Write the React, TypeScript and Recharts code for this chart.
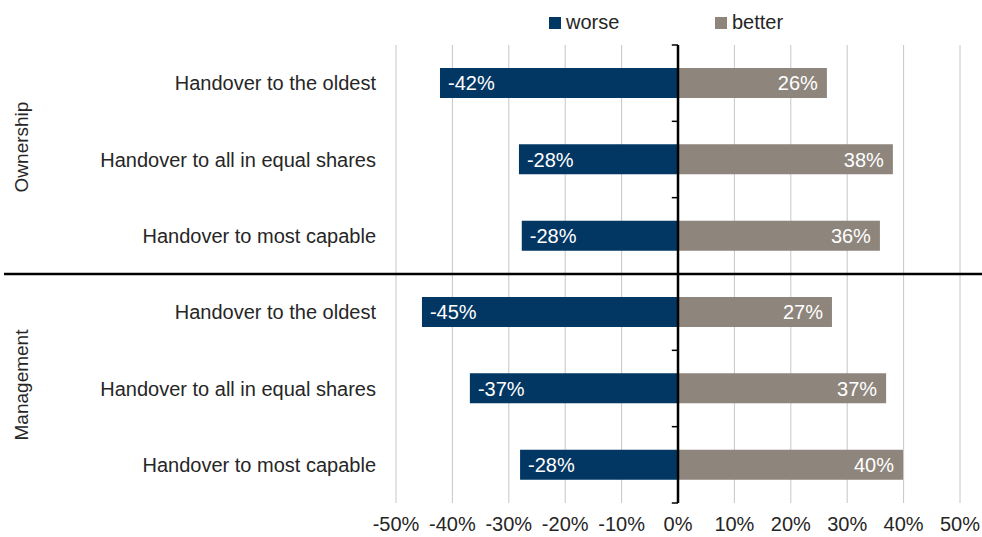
import { Bar, BarChart, CartesianGrid, LabelList, ReferenceLine, XAxis, YAxis } from "recharts";

const GROUPS = ["Ownership", "Management"];
const ITEMS = ["Handover to the oldest", "Handover to all in equal shares", "Handover to most capable"];
const SERIES = ["worse", "better"];
const WORSE = [-42.2, -28.2, -27.7, -45.4, -36.9, -28.0];
const BETTER = [26.4, 38.1, 35.8, 27.3, 36.9, 39.9];
const X_TICKS = [-50, -40, -30, -20, -10, 0, 10, 20, 30, 40, 50];

const COLORS = { worse: "#023763", better: "#8e857c" };
const FONT = "'Liberation Sans', Arial, sans-serif";
const TEXT = "#262626";

const data = WORSE.map((w, i) => ({
  key: `${GROUPS[Math.floor(i / ITEMS.length)]}-${i % ITEMS.length}`,
  label: ITEMS[i % ITEMS.length],
  worse: w,
  better: BETTER[i],
}));

const labelOf = (k: string) => data.find((d) => d.key === k)?.label ?? k;

function barLabel(side: "left" | "right") {
  return (p: any) => {
    const vb = p.viewBox ?? p;
    const x = Number(vb.x), w = Number(vb.width), y = Number(vb.y), h = Number(vb.height);
    const left = Math.min(x, x + w);
    const right = Math.max(x, x + w);
    return (
      <text
        x={side === "left" ? left + 8 : right - 9}
        y={y + h / 2}
        dy="0.36em"
        textAnchor={side === "left" ? "start" : "end"}
        fill="#ffffff"
        fontSize={20}
        fontFamily={FONT}
      >
        {`${Math.round(Number(p.value))}%`}
      </text>
    );
  };
}

export default function App() {
  const lastKey = data[data.length - 1].key;
  const groupStart = data[ITEMS.length].key;
  return (
    <div style={{ position: "absolute", left: 0, top: 0, width: 982, height: 537, background: "#fff", fontFamily: FONT }}>
      {/* legend */}
      <div style={{ position: "absolute", left: 549, top: 11, display: "flex", fontSize: 20, color: TEXT }}>
        {SERIES.map((s) => (
          <div key={s} style={{ display: "flex", alignItems: "center", width: 166 }}>
            <span style={{ width: 12, height: 12, background: COLORS[s as "worse" | "better"], marginRight: 5 }} />
            <span>{s}</span>
          </div>
        ))}
      </div>

      {/* group labels */}
      {GROUPS.map((g, i) => (
        <div
          key={g}
          style={{
            position: "absolute",
            left: 22,
            top: i === 0 ? 147 : 385,
            transform: "translate(-50%, -50%) rotate(-90deg)",
            fontSize: 19,
            color: TEXT,
            whiteSpace: "nowrap",
          }}
        >
          {g}
        </div>
      ))}

      <BarChart
        width={982}
        height={537}
        data={data}
        layout="vertical"
        stackOffset="sign"
        margin={{ top: 45, right: 22, left: 0, bottom: 0 }}
        style={{ position: "absolute", left: 0, top: 0 }}
      >
        <CartesianGrid vertical horizontal={false} stroke="#c6c6c6" />
        <XAxis
          type="number"
          domain={[-50, 50]}
          ticks={X_TICKS}
          tickFormatter={(v) => `${v}%`}
          axisLine={false}
          tickLine={false}
          height={34}
          tickMargin={8}
          tick={{ fontSize: 20, fill: TEXT, fontFamily: FONT }}
        />
        <YAxis
          type="category"
          dataKey="key"
          width={396}
          axisLine={false}
          tickLine={false}
          tickSize={0}
          tickMargin={20}
          tickFormatter={labelOf}
          tick={{ fontSize: 20, fill: TEXT, fontFamily: FONT }}
        />
        <Bar dataKey="worse" stackId="a" fill={COLORS.worse} barSize={30} isAnimationActive={false}>
          <LabelList dataKey="worse" content={barLabel("left")} />
        </Bar>
        <Bar dataKey="better" stackId="a" fill={COLORS.better} barSize={30} isAnimationActive={false}>
          <LabelList dataKey="better" content={barLabel("right")} />
        </Bar>
        <ReferenceLine x={0} stroke="#000" strokeWidth={2.5} />
        {data.map((d) => (
          <ReferenceLine
            key={d.key}
            segment={[{ x: -1.1, y: d.key }, { x: 0, y: d.key }]}
            position="start"
            ifOverflow="visible"
            stroke="#000"
            strokeWidth={1.5}
          />
        ))}
        <ReferenceLine
          segment={[{ x: -1.1, y: lastKey }, { x: 0, y: lastKey }]}
          position="end"
          ifOverflow="visible"
          stroke="#000"
          strokeWidth={1.5}
        />
        <ReferenceLine
          segment={[{ x: -119.5, y: groupStart }, { x: 54, y: groupStart }]}
          position="start"
          ifOverflow="visible"
          stroke="#000"
          strokeWidth={2.5}
        />
      </BarChart>
    </div>
  );
}
